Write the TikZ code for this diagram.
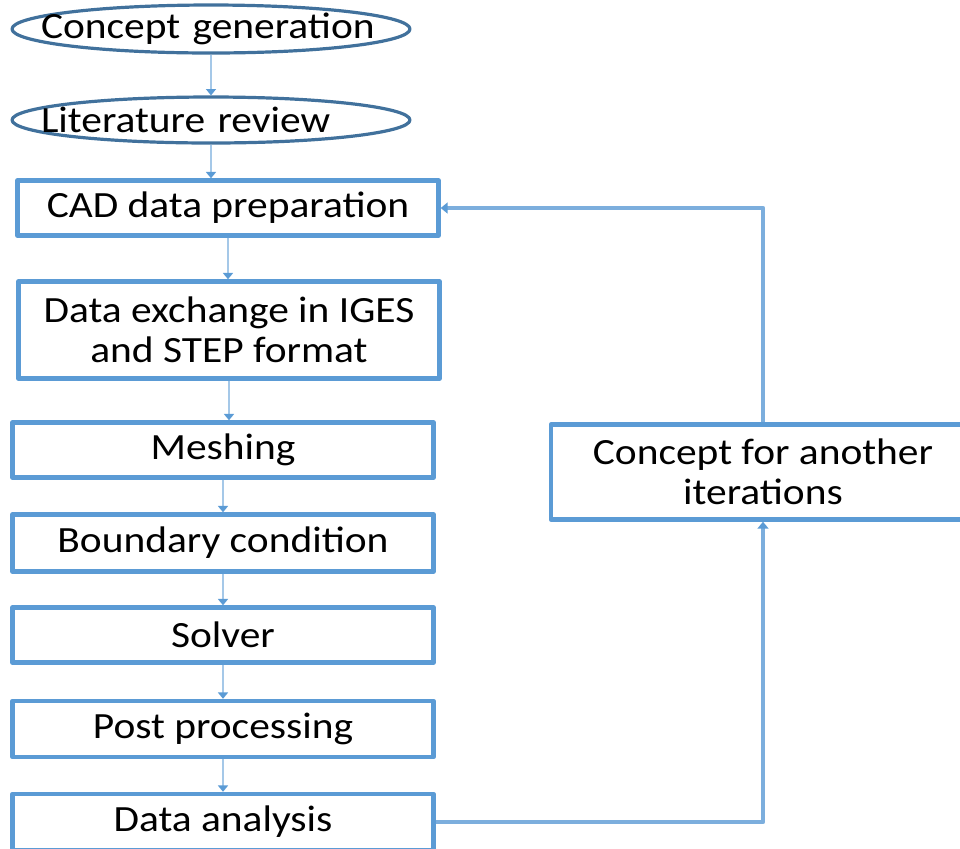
\documentclass[tikz,border=0pt]{standalone}
\usepackage{fontspec}
\setmainfont{Carlito}[FakeStretch=1.12]
\usetikzlibrary{shapes.geometric,arrows.meta}
\definecolor{boxblue}{RGB}{91,155,213}
\definecolor{ovalblue}{RGB}{65,113,156}
\definecolor{linkblue}{RGB}{165,200,232}
\definecolor{loopblue}{RGB}{124,174,221}
\begin{document}
\begin{tikzpicture}[x=0.5pt, y=-0.5pt, font=\fontsize{18.5}{20}\selectfont, line join=round,
    oval/.style={ellipse, draw=ovalblue, line width=1.6pt, minimum width=199pt, minimum height=24pt, inner xsep=-20pt, inner ysep=0pt, text width=170pt, align=left},
    stepbox/.style={rectangle, draw=boxblue, line width=2.2pt, minimum width=210.5pt, minimum height=27.5pt, align=center, fill=white},
    link/.style={draw=linkblue, line width=1pt, -{Triangle[width=5pt,length=3.2pt,color=boxblue]}},
    back/.style={draw=loopblue, line width=2.1pt, -{Triangle[width=5.5pt,length=3.5pt,color=boxblue]}}]
    \useasboundingbox (0,0) rectangle (960,848);
    \clip (0,0) rectangle (960,848);
    \node[oval] (gen) at (211,29) {Concept generation};
    \node[oval, minimum height=23pt] (lit) at (211,120) {Literature review};
    \node[stepbox] (cad) at (228,208) {CAD data preparation};
    \node[stepbox, minimum height=48.5pt] (exch) at (229,330) {Data exchange in IGES\\and STEP format};
    \node[stepbox] (mesh) at (223,450) {Meshing};
    \node[stepbox, minimum height=28.5pt] (bound) at (223,543) {Boundary condition};
    \node[stepbox] (solv) at (223,635) {Solver};
    \node[stepbox, minimum height=28pt] (post) at (223,729) {Post processing};
    \node[stepbox, minimum height=28pt] (anal) at (223,822) {Data analysis};
    \node[stepbox, minimum width=212pt, minimum height=47.5pt] (iter) at (763,472) {Concept for another\\iterations};
    \foreach \a/\b in {gen/lit, lit/cad, cad/exch, exch/mesh, mesh/bound, bound/solv, solv/post, post/anal}
        \draw[link] (\a.south) -- (\a.south |- \b.north);
    \draw[back] (anal.east) -| (iter.south);
    \draw[back] (iter.north) |- (cad.east);
\end{tikzpicture}
\end{document}
